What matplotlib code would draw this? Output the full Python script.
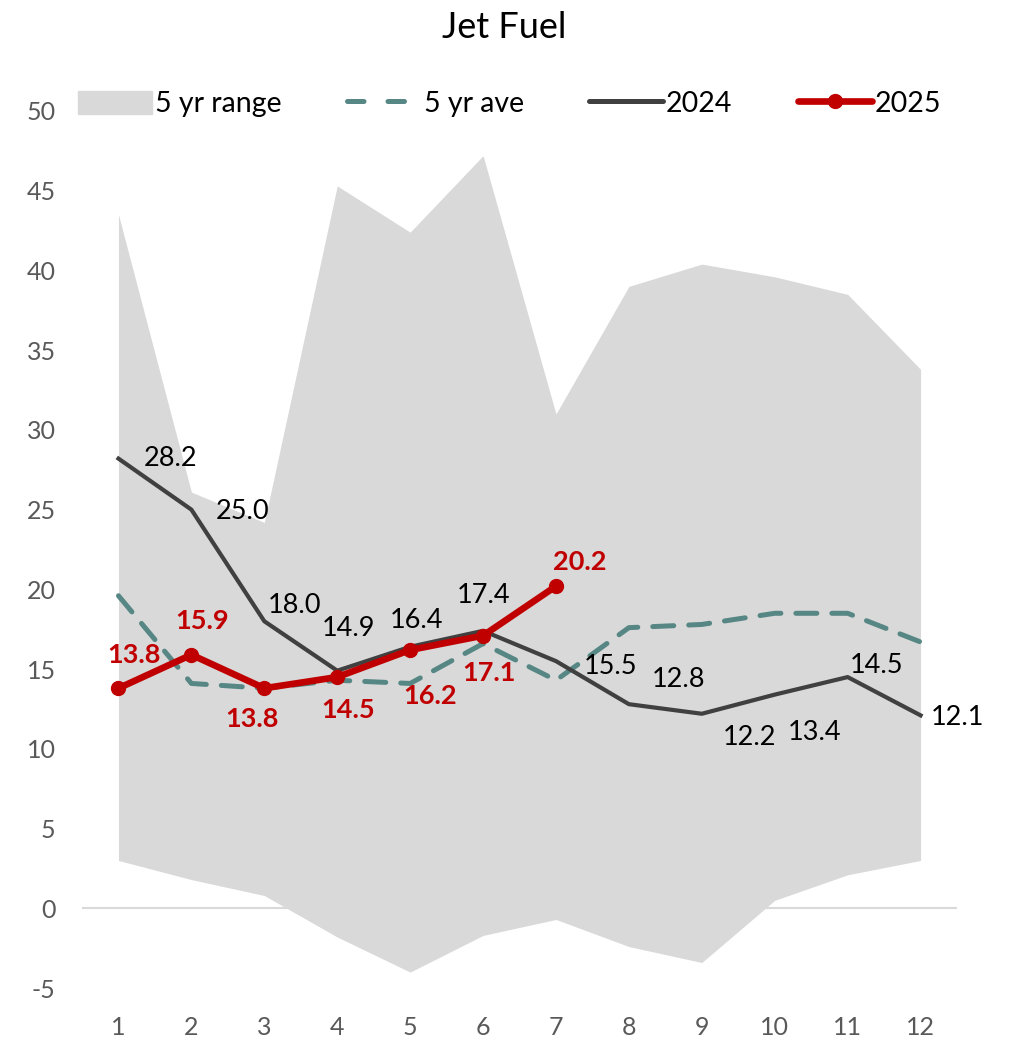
import matplotlib
matplotlib.use("Agg")
from matplotlib import pyplot as plt
from matplotlib.patches import Patch
from matplotlib.lines import Line2D

plt.rcParams['font.family'] = ['Lato', 'DejaVu Sans']
plt.rcParams['axes.unicode_minus'] = False

# months
months = [1, 2, 3, 4, 5, 6, 7, 8, 9, 10, 11, 12]

# 5 yr range (low / high)
range_low = [3.0, 1.8, 0.8, -1.8, -4.0, -1.7, -0.7, -2.4, -3.4, 0.5, 2.1, 3.0]
range_high = [43.5, 26.1, 24.2, 45.3, 42.4, 47.2, 31.0, 39.0, 40.4, 39.6, 38.5, 33.8]

# 5 yr average
ave5 = [19.6, 14.1, 13.8, 14.3, 14.1, 16.6, 14.3, 17.6, 17.8, 18.5, 18.5, 16.7]

# 2024 and 2025
y2024 = [28.2, 25.0, 18.0, 14.9, 16.4, 17.4, 15.5, 12.8, 12.2, 13.4, 14.5, 12.1]
months_2025 = [1, 2, 3, 4, 5, 6, 7]
y2025 = [13.8, 15.9, 13.8, 14.5, 16.2, 17.1, 20.2]

# label offsets in pixels (dx, dy)
off2024 = [(52, 0), (51, -2), (30, 16), (11, 42), (6, 26), (1, 35),
           (55, -5), (50, 25), (48, -24), (40, -38), (29, 12), (37, -2)]
off2025 = [(15, 33), (11, 34), (-12, -31), (11, -33), (20, -46), (6, -37), (24, 24)]

gray = '#d9d9d9'
teal = '#578784'
dark = '#404040'
red = '#c00000'

fig = plt.figure(figsize=(10.09, 10.43), dpi=100)
ax = fig.add_axes([0.0813, 0.0527, 0.8672, 0.8409])

ax.axhline(0, color=gray, lw=1.5, zorder=0)
ax.fill_between(months, range_low, range_high, color=gray, lw=0, zorder=1)
ax.plot(months, ave5, color=teal, lw=3.6, dashes=(4.2, 3.0),
        dash_capstyle='round', zorder=2)
ax.plot(months, y2024, color=dark, lw=3.0, zorder=3)
ax.plot(months_2025, y2025, color=red, lw=4.8, marker='o', markersize=10, zorder=4)

for x, v, (dx, dy) in zip(months, y2024, off2024):
    ax.annotate(f'{v:.1f}', (x, v), xytext=(dx, dy), textcoords='offset pixels',
                ha='center', va='center', fontsize=19.5, color='black', zorder=5)
for x, v, (dx, dy) in zip(months_2025, y2025, off2025):
    ax.annotate(f'{v:.1f}', (x, v), xytext=(dx, dy), textcoords='offset pixels',
                ha='center', va='center', fontsize=19.5, color=red,
                fontweight='bold', zorder=5)

ax.set_xlim(0.5, 12.5)
ax.set_ylim(-5, 50)
ax.set_xticks(months)
ax.set_yticks(range(-5, 51, 5))
ax.tick_params(length=0, labelsize=18, labelcolor='#595959')
ax.tick_params(axis='y', pad=19)
ax.tick_params(axis='x', pad=20)
for s in ax.spines.values():
    s.set_visible(False)

fig.text(0.5, 1 - 28 / 1043, 'Jet Fuel', fontsize=26, ha='center', va='center')

handles = [
    Patch(color=gray),
    Line2D([], [], color=teal, lw=3.6, dashes=(3.3, 4.8), dash_capstyle='round'),
    Line2D([], [], color=dark, lw=3.6, solid_capstyle='round'),
    Line2D([], [], color=red, lw=4.8, marker='o', markersize=10, solid_capstyle='round'),
]
fig.legend(handles, ['5 yr range', '5 yr ave', '2024', '2025'], ncol=4,
           loc='center', bbox_to_anchor=(0.505, 0.9003), frameon=False,
           fontsize=20.5, handlelength=2.6, handletextpad=0.1, columnspacing=2.3,
           handleheight=0.9)

fig.savefig('out.png', dpi=100)
